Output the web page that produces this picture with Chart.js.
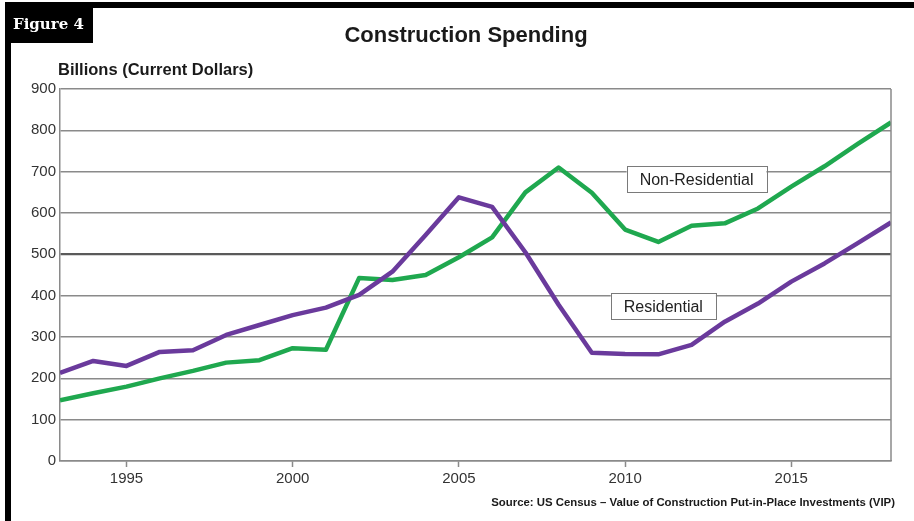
<!DOCTYPE html>
<html>
<head>
<meta charset="utf-8">
<title>Construction Spending</title>
<script src="https://cdn.jsdelivr.net/npm/chart.js@4/dist/chart.umd.min.js"></script>
<style>
  html, body { margin: 0; padding: 0; background: #fff; }
  #wrap { position: relative; width: 914px; height: 521px; }
  canvas { display: block; }
</style>
</head>
<body>
<div id="wrap"><canvas id="c" width="914" height="521"></canvas></div>
<script>
// Years covered by the series
const years = [1993, 1994, 1995, 1996, 1997, 1998, 1999, 2000, 2001, 2002, 2003, 2004, 2005,
               2006, 2007, 2008, 2009, 2010, 2011, 2012, 2013, 2014, 2015, 2016, 2017, 2018];

// Spending, billions of current dollars
const residential = [213, 242, 230, 264, 268, 305, 329, 353, 371, 402, 458, 547, 638,
                     615, 505, 378, 262, 259, 258, 281, 337, 381, 434, 478, 527, 577];
const nonResidential = [147, 164, 180, 200, 218, 238, 244, 273, 269, 443, 438, 450, 493,
                        541, 650, 710, 649, 560, 530, 569, 575, 611, 664, 713, 767, 819];

// Axis tick labels
const yearTicks = [1995, 2000, 2005, 2010, 2015];
const valueTicks = [0, 100, 200, 300, 400, 500, 600, 700, 800, 900];

// Boxed series labels: [text, year, value]
const seriesLabels = [
  ['Non-Residential', 2012.15, 682],
  ['Residential', 2011.15, 374]
];

const FONT = '"Liberation Sans", Arial, Helvetica, sans-serif';

const toPoints = (vals) => years.map((y, i) => ({ x: y, y: vals[i] }));

// Frame, headings, source note, right border and boxed labels
const decor = {
  id: 'decor',
  beforeDraw(chart) {
    const ctx = chart.ctx;
    ctx.save();
    ctx.fillStyle = '#fff';
    ctx.fillRect(0, 0, chart.width, chart.height);
    ctx.restore();
  },
  afterDraw(chart) {
    const ctx = chart.ctx;
    const a = chart.chartArea;
    const xs = chart.scales.x, ys = chart.scales.y;
    ctx.save();

    // right border of the plot
    ctx.strokeStyle = '#8a8a8a';
    ctx.lineWidth = 1.5;
    ctx.beginPath();
    ctx.moveTo(a.right, a.top);
    ctx.lineTo(a.right, a.bottom);
    ctx.stroke();

    // black frame: top bar and left strip
    ctx.fillStyle = '#000';
    ctx.fillRect(5, 2, chart.width - 5, 6);
    ctx.fillRect(5, 2, 6, chart.height - 2);
    // "Figure 4" tab
    ctx.fillRect(5, 2, 88, 41);
    ctx.fillStyle = '#fff';
    ctx.font = 'bold 15px "DejaVu Serif", Georgia, serif';
    ctx.textBaseline = 'alphabetic';
    ctx.textAlign = 'left';
    ctx.fillText('Figure 4', 13, 29);

    // title
    ctx.fillStyle = '#1a1a1a';
    ctx.font = 'bold 22px ' + FONT;
    ctx.textAlign = 'center';
    ctx.textBaseline = 'middle';
    ctx.fillText('Construction Spending', 466, 36);

    // unit label
    ctx.font = 'bold 16.5px ' + FONT;
    ctx.textAlign = 'left';
    ctx.fillText('Billions (Current Dollars)', 58, 70);

    // source note
    ctx.font = 'bold 11.4px ' + FONT;
    ctx.textAlign = 'right';
    ctx.fillText('Source: US Census \u2013 Value of Construction Put-in-Place Investments (VIP)', 895, 503);

    // boxed series labels
    ctx.font = '16px ' + FONT;
    ctx.textAlign = 'center';
    seriesLabels.forEach(([text, yr, val]) => {
      const cx = xs.getPixelForValue(yr);
      const cy = ys.getPixelForValue(val);
      const w = ctx.measureText(text).width + 26;
      const h = 26;
      ctx.fillStyle = '#fff';
      ctx.fillRect(cx - w / 2, cy - h / 2, w, h);
      ctx.strokeStyle = '#7a7a7a';
      ctx.lineWidth = 1;
      ctx.strokeRect(Math.round(cx - w / 2) + 0.5, Math.round(cy - h / 2) + 0.5, Math.round(w), h);
      ctx.fillStyle = '#222';
      ctx.fillText(text, cx, cy + 1);
    });

    ctx.restore();
  }
};

new Chart(document.getElementById('c'), {
  type: 'line',
  data: {
    datasets: [
      {
        label: 'Residential',
        data: toPoints(residential),
        borderColor: '#6a3a9c',
        borderWidth: 4.5,
        pointRadius: 0,
        tension: 0,
        borderJoinStyle: 'round'
      },
      {
        label: 'Non-Residential',
        data: toPoints(nonResidential),
        borderColor: '#1fa84f',
        borderWidth: 4.5,
        pointRadius: 0,
        tension: 0,
        borderJoinStyle: 'round'
      }
    ]
  },
  plugins: [decor],
  options: {
    responsive: false,
    animation: false,
    events: [],
    layout: { padding: { left: 0, top: 89, right: 23, bottom: 0 } },
    plugins: {
      legend: { display: false },
      title: { display: false },
      tooltip: { enabled: false }
    },
    scales: {
      x: {
        type: 'linear',
        min: years[0],
        max: years[years.length - 1],
        afterBuildTicks: (s) => { s.ticks = yearTicks.map(v => ({ value: v })); },
        afterFit: (s) => { s.height = 60; },
        grid: {
          drawOnChartArea: false,
          drawTicks: true,
          tickLength: 6,
          tickWidth: 1.5,
          tickColor: '#8a8a8a'
        },
        border: { display: true, color: '#8a8a8a', width: 1.5 },
        ticks: {
          autoSkip: false,
          maxRotation: 0,
          padding: 3,
          color: '#333',
          font: { family: FONT, size: 15 },
          callback: (v) => String(v)
        }
      },
      y: {
        min: 0,
        max: 900,
        afterBuildTicks: (s) => { s.ticks = valueTicks.map(v => ({ value: v })); },
        afterFit: (s) => { s.width = 60; },
        grid: {
          drawTicks: false,
          color: (c) => (c.tick && c.tick.value === 500) ? '#5a5a5a' : '#8a8a8a',
          lineWidth: (c) => (c.tick && c.tick.value === 500) ? 2.2 : 1.5
        },
        border: { display: true, color: '#8a8a8a', width: 1.5 },
        ticks: {
          padding: 4,
          color: '#333',
          font: { family: FONT, size: 15 },
          callback: (v) => String(v)
        }
      }
    }
  }
});
</script>
</body>
</html>
